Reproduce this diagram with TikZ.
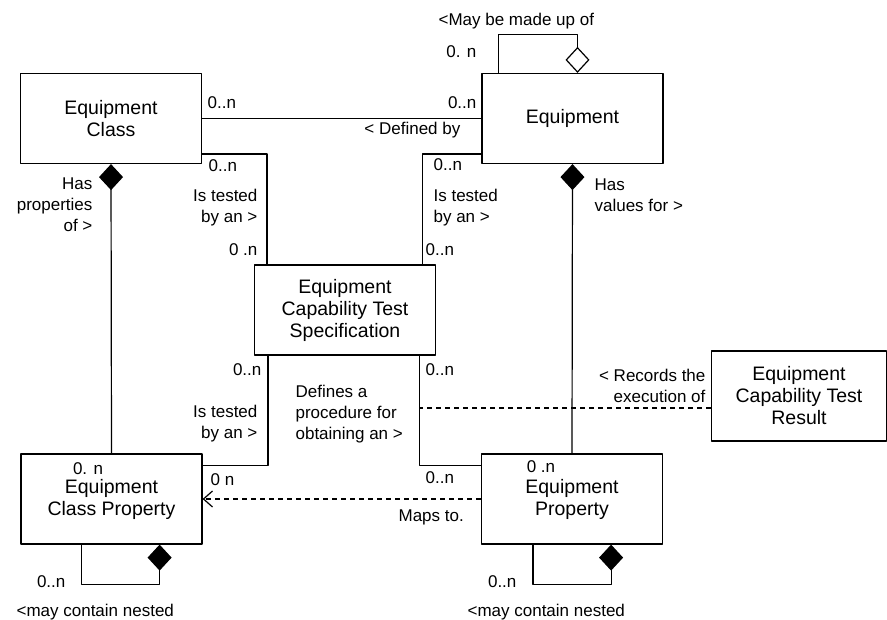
\documentclass[tikz,border=0pt]{standalone}
\usepackage{fontspec}
\setmainfont{Liberation Sans}
\usetikzlibrary{arrows.meta}
\begin{document}
\begin{tikzpicture}[x=1pt,y=-1pt,line join=round,line width=1.2pt,
	box/.style={draw,minimum width=181pt,minimum height=90pt,align=center,font=\fontsize{19.5}{22}\selectfont},
	lbl/.style={inner sep=0pt,font=\fontsize{17}{21}\selectfont},
	comp/.style={-{Diamond[length=26pt,width=24pt]}},
	aggr/.style={-{Diamond[open,length=26pt,width=24pt]}},
	dep/.style={dash pattern=on 5pt off 4pt}]
		\useasboundingbox (0,0) rectangle (887,620);
		\node[box] (EC) at (111,118.5) {Equipment\\Class};
		\node[box] (Eq) at (572.5,118.5) {Equipment};
		\node[box] (Spec) at (345,310) {Equipment\\Capability Test\\Specification};
		\node[box] (ECP) at (111.5,499) {Equipment\\Class Property};
		\node[box] (EP) at (572,499) {Equipment\\Property};
		\node[box,minimum width=175pt] (Res) at (799,396) {Equipment\\Capability Test\\Result};
		\draw (EC.east)--(Eq.west);
		\draw ([yshift=10pt]EC.south east)-|([xshift=13pt]Spec.north west);
		\draw ([yshift=10pt]Eq.south west)-|([xshift=-14pt]Spec.north east);
		\draw ([xshift=14pt]Spec.south west)|-([yshift=-12pt]ECP.north east);
		\draw ([xshift=-17pt]Spec.south east)coordinate(sp)|-([yshift=-12pt]EP.north west);
		\draw[comp] (ECP.north)--(EC.south);
		\draw[comp] (EP.north)--(Eq.south);
		\draw[aggr] ([xshift=17pt]Eq.north west)--++(0,-38)-|([xshift=5pt]Eq.north);
		\draw[comp] ([xshift=61pt]ECP.south west)--++(0,40)-|([xshift=-43pt]ECP.south east);
		\draw[comp] ([xshift=52pt]EP.south west)--++(0,40)-|([xshift=-52pt]EP.south east);
		\draw[dep,-{Straight Barb[length=9pt,width=16pt]}] (EP.west)--(ECP.east);
		\draw[dep] ([yshift=-12pt]Res.west)--([yshift=-12pt]Res.west-|sp);
		% multiplicities and role names
		\node[lbl,anchor=west] (nDefA) at (207,103) {0..n};
		\node[lbl,anchor=east] (nDefB) at (477,103) {0..n};
		\node[lbl,anchor=east] (tDef) at (461,130) {< Defined by};
		\node[lbl,anchor=west] (nTstA) at (208,166) {0..n};
		\node[lbl,anchor=east,align=right] (tTstA) at (258,208) {Is tested\\by an >};
		\node[lbl,anchor=east] (nTstB) at (258,250) {0 .n};
		\node[lbl,anchor=west] (nTstC) at (433,165) {0..n};
		\node[lbl,anchor=west,align=left] (tTstC) at (433,208) {Is tested\\by an >};
		\node[lbl,anchor=west] (nTstD) at (425,250) {0..n};
		\node[lbl,anchor=west] (tMade) at (438,21) {<May be made up of};
		\node[lbl,anchor=east] (nMade) at (477,52) {0. n};
		\node[lbl,anchor=west,align=left] (tVal) at (594,195) {Has\\values for >};
		\node[lbl,anchor=east,align=right] (tProp) at (93,205) {Has\\properties\\of >};
		\node[lbl,anchor=east] (nTstE) at (262,370) {0..n};
		\node[lbl,anchor=east,align=right] (tTstE) at (258,424) {Is tested\\by an >};
		\node[lbl,anchor=west] (nTstF) at (210,480) {0 n};
		\node[lbl,anchor=west,align=left] (tProc) at (295,414) {Defines a\\procedure for\\obtaining an >};
		\node[lbl,anchor=west] (nProcA) at (425,370) {0..n};
		\node[lbl,anchor=west] (nProcB) at (425,478) {0..n};
		\node[lbl,anchor=west] (tMaps) at (398,517) {Maps to.};
		\node[lbl,anchor=east,align=right] (tRec) at (706,386) {< Records the\\execution of};
		\node[lbl] (nECP) at (88,469) {0. n};
		\node[lbl] (nEP) at (541,467) {0 .n};
		\node[lbl,anchor=east] (nNestA) at (66,582) {0..n};
		\node[lbl,anchor=west] (tNestA) at (16,612) {<may contain nested};
		\node[lbl,anchor=east] (nNestB) at (517,582) {0..n};
		\node[lbl,anchor=west] (tNestB) at (467,612) {<may contain nested};
	\end{tikzpicture}
\end{document}
